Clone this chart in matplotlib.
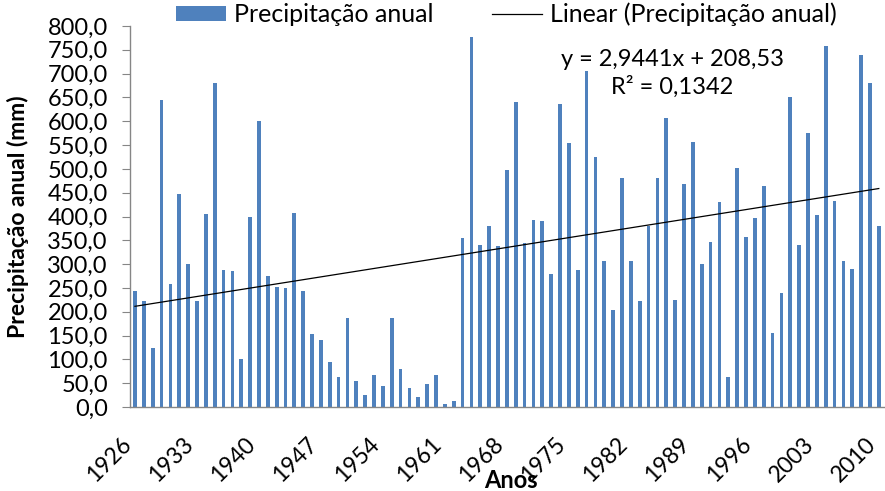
import matplotlib
matplotlib.use("Agg")
import matplotlib.pyplot as plt
import matplotlib.transforms as mtransforms
import numpy as np
from matplotlib.ticker import FuncFormatter, MultipleLocator

years = list(range(1926, 2011))
precip = [244, 223, 125, 645, 259, 448, 300, 223, 405, 680,
          288, 286, 101, 400, 601, 276, 253, 250, 407, 244,
          154, 141, 94, 63, 187, 54, 25, 68, 44, 187,
          80, 39, 22, 48, 68, 6, 13, 355, 777, 340,
          381, 339, 498, 640, 344, 393, 390, 280, 636, 554,
          288, 705, 524, 307, 204, 481, 307, 223, 381, 481,
          607, 225, 469, 556, 300, 347, 430, 63, 502, 357,
          397, 465, 156, 239, 651, 340, 576, 404, 758, 433,
          307, 290, 739, 680, 381]
tick_years = [1926, 1933, 1940, 1947, 1954, 1961, 1968, 1975, 1982, 1989, 1996, 2003, 2010]
slope = 2.9441
intercept = 208.53
r2 = 0.1342

plt.rcParams['font.family'] = ['Lato', 'DejaVu Sans']

fig = plt.figure(figsize=(8.85, 4.91), dpi=100)
ax = fig.add_axes([0.147, 0.171, 0.852, 0.776])

bar_color = '#4F81BD'
bars = ax.bar(years, precip, width=0.42, color=bar_color, label='Precipitação anual', zorder=2)

idx = np.arange(1, len(years) + 1)
trend = slope * idx + intercept
line, = ax.plot(years, trend, color='black', linewidth=0.9, label='Linear (Precipitação anual)', zorder=3)

ax.set_xlim(1925.45, 2010.6)
ax.set_ylim(0, 800)
ax.yaxis.set_major_locator(MultipleLocator(50))
ax.yaxis.set_major_formatter(FuncFormatter(lambda v, p: f"{v:.1f}".replace('.', ',')))
ax.set_xticks(tick_years)
ax.set_xticklabels([str(y) for y in tick_years], rotation=45, ha='right',
                   rotation_mode='anchor', fontsize=16.5)
ax.tick_params(axis='x', length=0, pad=19)
offset = mtransforms.ScaledTranslation(-14 / 100, 0, fig.dpi_scale_trans)
for lbl in ax.get_xticklabels():
    lbl.set_transform(lbl.get_transform() + offset)
ax.tick_params(axis='y', labelsize=17, length=6, color='#868686', pad=10)

for s in ['top', 'right']:
    ax.spines[s].set_visible(False)
for s in ['left', 'bottom']:
    ax.spines[s].set_color('#868686')
    ax.spines[s].set_linewidth(1.0)

ax.set_ylabel('Precipitação anual (mm)', fontsize=16.5, fontweight='bold')
ax.yaxis.set_label_coords(-0.134, 0.5)
ax.set_xlabel('Anos', fontsize=17, fontweight='bold')
ax.xaxis.set_label_coords(0.505, -0.163)

ax.text(0.719, 0.911, 'y = 2,9441x + 208,53', transform=ax.transAxes,
        ha='center', va='center', fontsize=17)
ax.text(0.719, 0.840, 'R² = 0,1342', transform=ax.transAxes,
        ha='center', va='center', fontsize=17)

fig.legend(handles=[bars, line], loc='upper left', bbox_to_anchor=(0.199, 0.995), ncol=2,
           frameon=False, fontsize=18, handlelength=2.0, handleheight=0.55,
           columnspacing=2.35, handletextpad=0.32, borderpad=0, borderaxespad=0)

fig.savefig('out.png', dpi=100)
